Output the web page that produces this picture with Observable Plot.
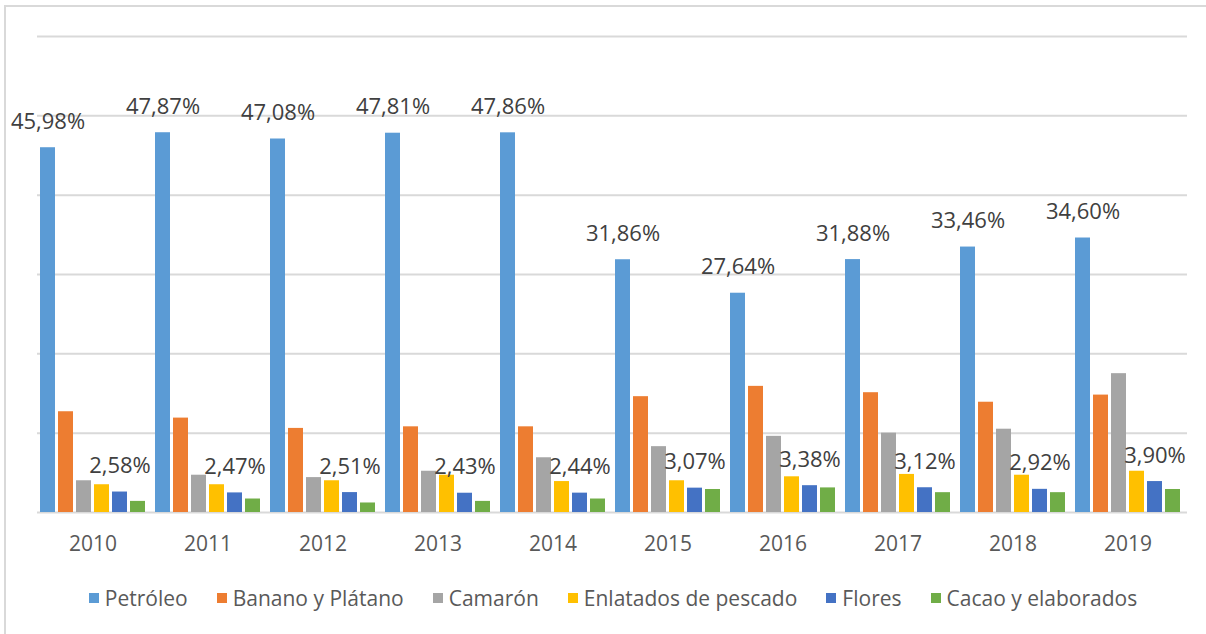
<!DOCTYPE html>
<html>
<head>
<meta charset="utf-8">
<script src="https://cdn.jsdelivr.net/npm/d3@7"></script>
<script src="https://cdn.jsdelivr.net/npm/@observablehq/plot@0.6"></script>
<style>
  html, body { margin: 0; padding: 0; background: #fff; }
  #wrap { position: relative; width: 1206px; height: 634px; overflow: hidden; font-family: "Open Sans", sans-serif; }
  #frame { position: absolute; left: 4px; top: 5px; right: 0; bottom: -4px; border-top: 2px solid #d9d9d9; border-left: 2px solid #d9d9d9; pointer-events: none; }
  #chart { position: absolute; left: 0; top: 0; }
  #legend { position: absolute; left: 0; top: 584px; width: 1206px; display: flex; justify-content: center; gap: 29px; font-size: 21px; color: #595959; padding-left: 20px; box-sizing: border-box; }
  .item { display: flex; align-items: center; gap: 6px; white-space: nowrap; }
  .sw { width: 10px; height: 10px; display: inline-block; }
</style>
</head>
<body>
<div id="wrap">
  <div id="chart"></div>
  <div id="legend"></div>
  <div id="frame"></div>
</div>
<script>
const years = ["2010","2011","2012","2013","2014","2015","2016","2017","2018","2019"];
const series = ["Petróleo","Banano y Plátano","Camarón","Enlatados de pescado","Flores","Cacao y elaborados"];
const colors = ["#5B9BD5","#ED7D31","#A5A5A5","#FFC000","#4472C4","#70AD47"];

const petroleo  = [45.98, 47.87, 47.08, 47.81, 47.86, 31.86, 27.64, 31.88, 33.46, 34.60];
const banano    = [12.7, 11.9, 10.6, 10.8, 10.8, 14.6, 15.9, 15.1, 13.9, 14.8];
const camaron   = [4.0, 4.7, 4.4, 5.2, 6.9, 8.3, 9.6, 10.0, 10.5, 17.5];
const enlatados = [3.5, 3.5, 4.0, 4.7, 3.9, 4.0, 4.5, 4.8, 4.7, 5.2];
const flores    = [2.58, 2.47, 2.51, 2.43, 2.44, 3.07, 3.38, 3.12, 2.92, 3.90];
const cacao     = [1.4, 1.7, 1.2, 1.4, 1.7, 2.9, 3.1, 2.5, 2.5, 2.9];
const labeled   = ["Petróleo", "Flores"];
const gridTicks = [0, 10, 20, 30, 40, 50, 60];

const valuesBySeries = [petroleo, banano, camaron, enlatados, flores, cacao];
const data = [];
years.forEach((y, i) => series.forEach((s, j) => data.push({year: y, serie: s, value: valuesBySeries[j][i]})));

const fmt = v => v.toFixed(2).replace(".", ",") + "%";

const chart = Plot.plot({
  width: 1206,
  height: 570,
  marginTop: 36,
  marginBottom: 58,
  marginLeft: 36,
  marginRight: 19,
  style: {fontFamily: "'Open Sans', sans-serif", background: "transparent"},
  fx: {domain: years, paddingInner: 0, paddingOuter: 0, axis: null, label: null},
  x: {domain: series, paddingInner: 0.19, paddingOuter: 0.2, axis: null},
  y: {domain: [0, 60], axis: null},
  color: {domain: series, range: colors},
  marks: [
    Plot.ruleY(gridTicks, {stroke: "#d9d9d9", strokeWidth: 2}),
    Plot.barY(data, {fx: "year", x: "serie", y: "value", fill: "serie", dx: -2}),
    Plot.text(data, {
      filter: d => labeled.includes(d.serie),
      fx: "year", x: "serie", y: "value",
      text: d => fmt(d.value),
      lineAnchor: "bottom", dy: -19, dx: -2,
      fontSize: 22, fill: "#404040"
    }),
    Plot.axisFx({anchor: "bottom", tickSize: 0, tickPadding: 24, fontSize: 21, fill: "#595959", label: null, dx: -2})
  ]
});
document.getElementById("chart").appendChild(chart);

const legend = d3.select("#legend");
series.forEach((s, i) => {
  const it = legend.append("div").attr("class", "item");
  it.append("span").attr("class", "sw").style("background", colors[i]);
  it.append("span").text(s);
});
</script>
</body>
</html>
